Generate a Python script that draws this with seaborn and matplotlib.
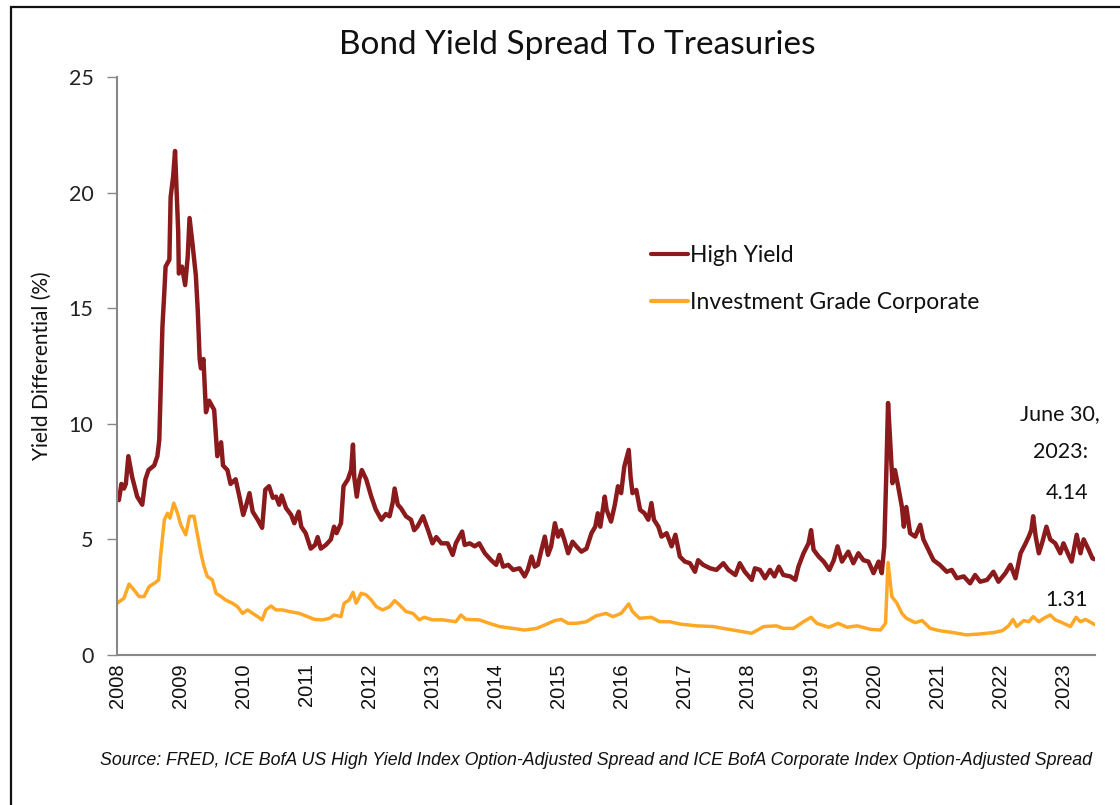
import numpy as np
import pandas as pd
import matplotlib
matplotlib.use("Agg")
import matplotlib.pyplot as plt
import seaborn as sns
from matplotlib.lines import Line2D

# ---- data (decimal years, spread in %) ----
hy_dates = [2008.00, 2008.03, 2008.07, 2008.11, 2008.14, 2008.18, 2008.24, 2008.32, 2008.40, 2008.45,
            2008.50, 2008.59, 2008.64, 2008.67, 2008.69, 2008.72, 2008.75, 2008.77, 2008.83, 2008.85,
            2008.89, 2008.92, 2008.95, 2008.97, 2008.98, 2009.03, 2009.08, 2009.12, 2009.15, 2009.20,
            2009.25, 2009.28, 2009.31, 2009.33, 2009.37, 2009.41, 2009.46, 2009.51, 2009.54, 2009.59,
            2009.65, 2009.68, 2009.75, 2009.80, 2009.88, 2009.94, 2010.00, 2010.04, 2010.10, 2010.15,
            2010.23, 2010.30, 2010.35, 2010.41, 2010.47, 2010.52, 2010.57, 2010.61, 2010.68, 2010.76,
            2010.81, 2010.88, 2010.92, 2010.99, 2011.07, 2011.14, 2011.18, 2011.23, 2011.31, 2011.39,
            2011.44, 2011.48, 2011.55, 2011.59, 2011.66, 2011.71, 2011.74, 2011.76, 2011.80, 2011.84,
            2011.88, 2011.95, 2012.03, 2012.10, 2012.19, 2012.26, 2012.32, 2012.37, 2012.40, 2012.45,
            2012.50, 2012.58, 2012.66, 2012.71, 2012.76, 2012.85, 2012.93, 2013.00, 2013.06, 2013.14,
            2013.24, 2013.32, 2013.37, 2013.47, 2013.51, 2013.59, 2013.67, 2013.74, 2013.83, 2013.93,
            2014.01, 2014.06, 2014.12, 2014.20, 2014.28, 2014.38, 2014.46, 2014.51, 2014.57, 2014.62,
            2014.67, 2014.72, 2014.78, 2014.83, 2014.88, 2014.94, 2014.99, 2015.04, 2015.09, 2015.15,
            2015.22, 2015.28, 2015.36, 2015.44, 2015.52, 2015.58, 2015.62, 2015.66, 2015.73, 2015.76,
            2015.83, 2015.89, 2015.94, 2015.99, 2016.04, 2016.11, 2016.14, 2016.17, 2016.23, 2016.29,
            2016.36, 2016.42, 2016.47, 2016.51, 2016.58, 2016.63, 2016.71, 2016.79, 2016.85, 2016.92,
            2017.00, 2017.08, 2017.16, 2017.21, 2017.29, 2017.40, 2017.50, 2017.61, 2017.69, 2017.80,
            2017.87, 2017.95, 2018.06, 2018.11, 2018.19, 2018.27, 2018.35, 2018.42, 2018.49, 2018.56,
            2018.67, 2018.75, 2018.80, 2018.88, 2018.96, 2019.00, 2019.04, 2019.12, 2019.20, 2019.29,
            2019.36, 2019.42, 2019.49, 2019.59, 2019.67, 2019.75, 2019.83, 2019.91, 2019.99, 2020.07,
            2020.12, 2020.16, 2020.19, 2020.22, 2020.25, 2020.29, 2020.33, 2020.38, 2020.44, 2020.47,
            2020.51, 2020.57, 2020.65, 2020.73, 2020.78, 2020.86, 2020.94, 2021.04, 2021.15, 2021.23,
            2021.31, 2021.42, 2021.52, 2021.60, 2021.68, 2021.79, 2021.89, 2021.97, 2022.08, 2022.16,
            2022.24, 2022.32, 2022.40, 2022.45, 2022.49, 2022.52, 2022.56, 2022.61, 2022.66, 2022.73,
            2022.79, 2022.87, 2022.95, 2023.00, 2023.08, 2023.13, 2023.21, 2023.27, 2023.32, 2023.40,
            2023.46, 2023.50]
hy_values = [7.0, 6.7, 7.4, 7.2, 7.4, 8.6, 7.7, 6.85, 6.5, 7.6,
             8.0, 8.2, 8.6, 9.3, 11.3, 14.2, 15.7, 16.8, 17.1, 19.8,
             20.7, 21.8, 19.7, 18.3, 16.5, 16.8, 16.0, 17.2, 18.9, 17.7,
             16.4, 14.9, 12.8, 12.4, 12.8, 10.5, 11.0, 10.75, 10.6, 8.6,
             9.2, 8.2, 8.0, 7.4, 7.6, 6.85, 6.06, 6.4, 7.0, 6.2,
             5.85, 5.5, 7.15, 7.3, 6.8, 6.85, 6.5, 6.9, 6.35, 6.06,
             5.7, 6.2, 5.55, 5.27, 4.6, 4.76, 5.1, 4.6, 4.76, 5.0,
             5.55, 5.27, 5.7, 7.3, 7.6, 8.0, 9.1, 7.7, 6.85, 7.6,
             8.0, 7.6, 6.85, 6.3, 5.85, 6.1, 6.0, 6.6, 7.2, 6.5,
             6.35, 6.0, 5.85, 5.4, 5.55, 6.0, 5.4, 4.83, 5.1, 4.83,
             4.83, 4.33, 4.83, 5.34, 4.76, 4.83, 4.7, 4.83, 4.4, 4.1,
             3.9, 4.33, 3.82, 3.9, 3.68, 3.75, 3.4, 3.68, 4.26, 3.82,
             3.9, 4.47, 5.12, 4.33, 4.7, 5.7, 5.12, 5.4, 4.98, 4.4,
             4.9, 4.7, 4.47, 4.6, 5.27, 5.55, 6.13, 5.55, 6.85, 6.28,
             5.77, 6.5, 7.3, 7.0, 8.15, 8.87, 7.7, 7.0, 7.14, 6.28,
             6.13, 5.85, 6.57, 5.85, 5.55, 5.12, 5.27, 4.7, 5.2, 4.26,
             4.04, 3.97, 3.6, 4.1, 3.9, 3.75, 3.68, 3.97, 3.68, 3.46,
             3.97, 3.6, 3.25, 3.75, 3.68, 3.32, 3.68, 3.4, 3.82, 3.46,
             3.4, 3.25, 3.82, 4.4, 4.83, 5.4, 4.55, 4.26, 4.04, 3.68,
             4.1, 4.7, 4.04, 4.47, 3.97, 4.4, 4.1, 4.04, 3.54, 4.04,
             3.54, 4.7, 7.6, 10.9, 9.45, 7.43, 8.0, 7.3, 6.4, 5.55,
             6.4, 5.27, 5.12, 5.63, 5.0, 4.55, 4.1, 3.9, 3.6, 3.68,
             3.32, 3.4, 3.1, 3.46, 3.17, 3.25, 3.6, 3.17, 3.54, 3.9,
             3.32, 4.4, 4.83, 5.12, 5.4, 6.0, 5.12, 4.4, 4.83, 5.55,
             5.0, 4.83, 4.4, 4.83, 4.33, 4.04, 5.2, 4.4, 5.0, 4.55,
             4.18, 4.14]

ig_dates = [2008.00, 2008.11, 2008.19, 2008.27, 2008.35, 2008.43, 2008.51, 2008.59, 2008.66, 2008.69,
            2008.75, 2008.80, 2008.84, 2008.90, 2008.96, 2009.01, 2009.09, 2009.15, 2009.22, 2009.28,
            2009.33, 2009.38, 2009.43, 2009.51, 2009.57, 2009.65, 2009.72, 2009.83, 2009.91, 2009.99,
            2010.07, 2010.15, 2010.23, 2010.30, 2010.36, 2010.44, 2010.52, 2010.62, 2010.73, 2010.89,
            2011.02, 2011.13, 2011.26, 2011.37, 2011.44, 2011.55, 2011.60, 2011.68, 2011.74, 2011.79,
            2011.87, 2011.95, 2012.03, 2012.11, 2012.21, 2012.32, 2012.40, 2012.48, 2012.58, 2012.69,
            2012.79, 2012.87, 2013.00, 2013.16, 2013.37, 2013.45, 2013.53, 2013.74, 2013.90, 2014.06,
            2014.28, 2014.46, 2014.65, 2014.78, 2014.94, 2015.04, 2015.15, 2015.28, 2015.44, 2015.59,
            2015.75, 2015.86, 2015.99, 2016.11, 2016.17, 2016.28, 2016.47, 2016.60, 2016.76, 2016.92,
            2017.19, 2017.45, 2017.61, 2017.82, 2018.06, 2018.25, 2018.45, 2018.56, 2018.72, 2018.88,
            2019.00, 2019.09, 2019.28, 2019.43, 2019.57, 2019.73, 2019.94, 2020.10, 2020.18, 2020.22,
            2020.28, 2020.36, 2020.44, 2020.51, 2020.65, 2020.76, 2020.89, 2021.04, 2021.25, 2021.46,
            2021.68, 2021.89, 2022.03, 2022.13, 2022.20, 2022.26, 2022.37, 2022.45, 2022.52, 2022.61,
            2022.69, 2022.79, 2022.87, 2022.98, 2023.11, 2023.20, 2023.27, 2023.35, 2023.50]
ig_values = [2.24, 2.45, 3.07, 2.81, 2.53, 2.53, 2.96, 3.1, 3.25, 4.26,
             5.84, 6.13, 5.92, 6.57, 6.13, 5.63, 5.2, 6.0, 6.0, 5.12,
             4.4, 3.82, 3.4, 3.25, 2.67, 2.53, 2.38, 2.24, 2.09, 1.8,
             1.95, 1.8, 1.66, 1.52, 1.95, 2.12, 1.95, 1.95, 1.88, 1.8,
             1.66, 1.54, 1.52, 1.59, 1.73, 1.66, 2.24, 2.38, 2.71, 2.24,
             2.67, 2.6, 2.38, 2.09, 1.95, 2.09, 2.35, 2.16, 1.88, 1.8,
             1.52, 1.63, 1.52, 1.52, 1.44, 1.73, 1.54, 1.52, 1.37, 1.23,
             1.15, 1.08, 1.15, 1.3, 1.49, 1.54, 1.37, 1.37, 1.44, 1.69,
             1.8, 1.66, 1.8, 2.21, 1.88, 1.59, 1.63, 1.44, 1.44, 1.34,
             1.26, 1.23, 1.15, 1.05, 0.94, 1.23, 1.26, 1.15, 1.15, 1.44,
             1.63, 1.37, 1.2, 1.37, 1.2, 1.26, 1.11, 1.08, 1.37, 4.0,
             2.53, 2.24, 1.8, 1.59, 1.4, 1.49, 1.15, 1.05, 0.97, 0.87,
             0.91, 0.97, 1.05, 1.26, 1.54, 1.23, 1.49, 1.44, 1.66, 1.44,
             1.59, 1.73, 1.52, 1.4, 1.23, 1.63, 1.44, 1.54, 1.31]

series_names = ["High Yield", "Investment Grade Corporate"]
year_ticks = list(range(2008, 2024))
y_ticks = [0, 5, 10, 15, 20, 25]
title = "Bond Yield Spread To Treasuries"
y_label = "Yield Differential (%)"
date_note = ["June 30,", "2023:"]
last_hy = 4.14
last_ig = 1.31
source = ("Source: FRED, ICE BofA US High Yield Index Option-Adjusted Spread and "
          "ICE BofA Corporate Index Option-Adjusted Spread")

df = pd.concat([
    pd.DataFrame({"date": hy_dates, "spread": hy_values, "series": series_names[0]}),
    pd.DataFrame({"date": ig_dates, "spread": ig_values, "series": series_names[1]}),
], ignore_index=True)

sns.set_theme(style="white")
plt.rcParams["font.family"] = ["Lato", "DejaVu Sans"]

W, H = 1120, 805
fig = plt.figure(figsize=(W / 100, H / 100), dpi=100)
ax = fig.add_axes([117 / W, 1 - 655 / H, (1095 - 117) / W, (655 - 77) / H])

palette = {series_names[0]: "#8B1A1C", series_names[1]: "#FFA726"}
sns.lineplot(data=df, x="date", y="spread", hue="series", palette=palette,
             ax=ax, estimator=None, sort=True, legend=False)
lws = [3.2, 2.5]
for line, lw in zip(ax.get_lines(), lws):
    line.set_linewidth(lw)
    line.set_solid_joinstyle("round")

ax.set_xlim(2008, 2023.5)
ax.set_ylim(0, 25)
ax.set_yticks(y_ticks)
ax.set_yticklabels([str(t) for t in y_ticks], fontsize=15.5, color="#222222")
ax.set_xticks(year_ticks)
ax.set_xticklabels([str(y) for y in year_ticks], rotation=90, fontsize=14.5,
                   family=["Liberation Sans", "DejaVu Sans"], color="#111111")
ax.tick_params(axis="y", length=7, width=1, color="#888888", direction="out", left=True, pad=10)
ax.tick_params(axis="x", length=0, pad=6)
for s in ["top", "right"]:
    ax.spines[s].set_visible(False)
for s in ["left", "bottom"]:
    ax.spines[s].set_color("#888888")
    ax.spines[s].set_linewidth(1.5)
ax.set_xlabel("")
ax.set_ylabel(y_label, fontsize=15, color="#111111", labelpad=12)
ax.grid(False)

fig.text(577 / W, 1 - 45 / H, title, ha="center", va="center", fontsize=24, color="#111111")

# legend
handles = [Line2D([], [], color=palette[n], lw=3) for n in series_names]
leg = ax.legend(handles, series_names, loc="upper left", bbox_to_anchor=(651 / W, 1 - 245 / H),
                bbox_transform=fig.transFigure, frameon=False, fontsize=16.5, borderpad=0,
                borderaxespad=0, handlelength=1.6, handletextpad=0.08, labelspacing=1.15)
for t in leg.get_texts():
    t.set_color("#111111")

# annotations
fig.text(1100 / W, 1 - 414 / H, date_note[0], ha="right", va="center", fontsize=15.5, color="#111111")
fig.text(1088 / W, 1 - 452 / H, date_note[1], ha="right", va="center", fontsize=15.5, color="#111111")
fig.text(1088 / W, 1 - 493 / H, f"{last_hy:.2f}", ha="right", va="center", fontsize=15.5, color="#111111")
fig.text(1088 / W, 1 - 600 / H, f"{last_ig:.2f}", ha="right", va="center", fontsize=15.5, color="#111111")

fig.text(1092 / W, 1 - 760 / H, source, ha="right", va="center", fontsize=12.8, style="italic",
         family=["Liberation Sans", "DejaVu Sans"], color="#111111")

# outer frame (only left and top edges fall inside the image)
fig.patches.append(plt.Rectangle((11 / W, -0.05), 1.2, 1.05 - 7 / H, transform=fig.transFigure,
                                 fill=False, edgecolor="#111111", linewidth=1.6))

fig.savefig("out.png", dpi=100)
